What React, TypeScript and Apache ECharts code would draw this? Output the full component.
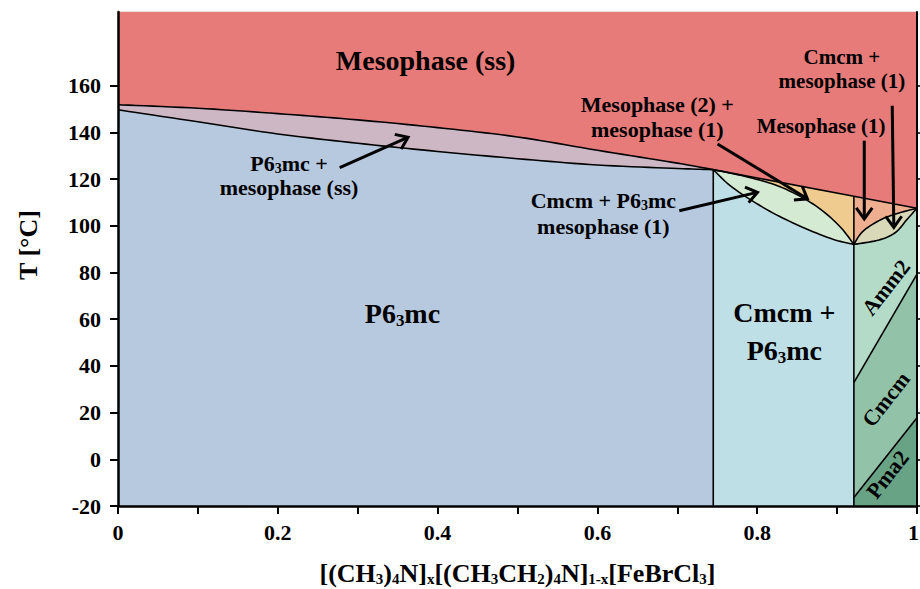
import React, { useEffect, useRef } from "react";
import * as echarts from "echarts";

const FONT = "'Liberation Serif', 'Times New Roman', Times, serif";

// ---- axes ----
const xTickValues = [0, 0.1, 0.2, 0.3, 0.4, 0.5, 0.6, 0.7, 0.8, 0.9, 1];
const xLabelValues = [0, 0.2, 0.4, 0.6, 0.8, 1];
const yTickValues = [-20, 0, 20, 40, 60, 80, 100, 120, 140, 160];
const X_MIN = 0;
const X_MAX = 1;
const Y_MIN = -20;
const Y_MAX = 191.5;

// ---- phase boundaries (x, T in °C) ----
const ssBoundaryLeft = [
  [0, 151.8], [0.1, 150.3], [0.2, 148], [0.3, 145.3], [0.4, 142],
  [0.5, 138], [0.6, 132.3], [0.7, 126.8], [0.745, 124],
];
const p63mcBoundary = [
  [0, 149.6], [0.1, 144.5], [0.2, 139.3], [0.3, 135.3], [0.4, 131.8],
  [0.5, 128.7], [0.6, 126], [0.7, 124.5], [0.745, 124],
];
const ssBoundaryRight = [[0.745, 124], [0.921, 112.6], [1, 107.5]];
const greenUpper = [[0.745, 124], [0.79, 120.7], [0.832, 116.2], [0.873, 108.6], [0.9025, 100], [0.921, 92]];
const greenLower = [[0.745, 124], [0.769, 116.4], [0.811, 107.1], [0.8525, 100], [0.894, 94.3], [0.921, 92]];
const rightUpper = [[0.921, 92], [0.932, 97.5], [0.9525, 102.2], [0.973, 105], [1, 107.5]];
const rightLower = [[0.921, 92], [0.9525, 93.9], [0.973, 97.1], [0.988, 102.9], [1, 107.5]];
const amm2CmcmLine = [[0.921, 32.8], [1, 79.3]];
const cmcmPma2Line = [[0.921, -16.4], [1, 17.8]];
const splitA = [[0.745, -20], [0.745, 124]];
const splitB = [[0.921, -20], [0.921, 112.6]];

// ---- annotation arrows [x1, T1, x2, T2] ----
const arrows = [
  [0.2775, 124.9, 0.363, 137.9],
  [0.7025, 106.4, 0.8004, 114.3],
  [0.7504, 135, 0.8629, 111.5],
  [0.934, 136.4, 0.934, 102.9],
  [0.969, 151.4, 0.971, 99.3],
];

// ---- region labels ----
const labelTexts = [
  "{b|Mesophase (ss)}",
  "{b|P6}{s|3}{b|mc +}\n{b|mesophase (ss)}",
  "{b|P6}{s|3}{b|mc}",
  "{b|Cmcm +}\n{b|P6}{s|3}{b|mc}",
  "{b|Cmcm + P6}{s|3}{b|mc}\n{b|mesophase (1)}",
  "{b|Mesophase (2) +}\n{b|mesophase (1)}",
  "{b|Mesophase (1)}",
  "{b|Cmcm +}\n{b|mesophase (1)}",
  "{b|Amm2}",
  "{b|Cmcm}",
  "{b|Pma2}",
];
const labelAnchors = [
  [0.385, 170.7], [0.214, 121.4], [0.356, 62.3], [0.834, 54.6], [0.6075, 105.1],
  [0.675, 146.7], [0.88, 142.9], [0.906, 167], [0.961, 73.6], [0.961, 25.7], [0.963, -6.5],
];
const labelSizes = [28, 22, 28, 28, 22, 22, 21, 21, 22, 22, 22];
const labelLineHeights = [32, 24, 32, 38, 26, 25, 24, 24, 24, 24, 24];
const labelRotations = [0, 0, 0, 0, 0, 0, 0, 0, 52, 52, 52];

type Piece = { pts: number[][]; smooth: boolean };
const C = (pts: number[][]): Piece => ({ pts, smooth: true });
const L = (pts: number[][]): Piece => ({ pts, smooth: false });
const rev = (a: number[][]) => a.slice().reverse();

const regions: { color: string; pieces: Piece[] }[] = [
  { color: "#E77B79", pieces: [C(ssBoundaryLeft), L(ssBoundaryRight), L([[X_MAX, Y_MAX], [X_MIN, Y_MAX]])] },
  { color: "#CDB7C4", pieces: [C(ssBoundaryLeft), C(rev(p63mcBoundary))] },
  { color: "#B7C9DF", pieces: [C(p63mcBoundary), L([[0.745, Y_MIN], [X_MIN, Y_MIN]])] },
  { color: "#BEDFE5", pieces: [C(greenLower), L([[0.921, Y_MIN], [0.745, Y_MIN]])] },
  { color: "#D4EAD3", pieces: [C(greenUpper), C(rev(greenLower))] },
  { color: "#EFCB8F", pieces: [L([[0.745, 124], [0.921, 112.6], [0.921, 92]]), C(rev(greenUpper))] },
  { color: "#EEAE90", pieces: [L([[0.921, 112.6], [1, 107.5]]), C(rev(rightUpper))] },
  { color: "#D9D9B9", pieces: [C(rightUpper), C(rev(rightLower))] },
  { color: "#B3DBC8", pieces: [C(rightLower), L(rev(amm2CmcmLine))] },
  { color: "#92C3A9", pieces: [L(amm2CmcmLine), L(rev(cmcmPma2Line))] },
  { color: "#68A385", pieces: [L(cmcmPma2Line), L([[1, Y_MIN], [0.921, Y_MIN]])] },
];

const boundaries: Piece[] = [
  C(ssBoundaryLeft), L(ssBoundaryRight), C(p63mcBoundary), L(splitA), L(splitB),
  C(greenUpper), C(greenLower), C(rightUpper), C(rightLower), L(amm2CmcmLine), L(cmcmPma2Line),
];

function catmull(p: number[][], steps = 10): number[][] {
  if (p.length < 3) return p;
  const out: number[][] = [p[0]];
  for (let i = 0; i < p.length - 1; i++) {
    const p0 = p[i - 1] || p[i];
    const p1 = p[i];
    const p2 = p[i + 1];
    const p3 = p[i + 2] || p[i + 1];
    for (let s = 1; s <= steps; s++) {
      const t = s / steps, t2 = t * t, t3 = t2 * t;
      const f = (a: number, b: number, c: number, d: number) =>
        0.5 * (2 * b + (-a + c) * t + (2 * a - 5 * b + 4 * c - d) * t2 + (-a + 3 * b - 3 * c + d) * t3);
      out.push([f(p0[0], p1[0], p2[0], p3[0]), f(p0[1], p1[1], p2[1], p3[1])]);
    }
  }
  return out;
}

function piecePx(piece: Piece, api: any): number[][] {
  const px = piece.pts.map((q) => api.coord(q));
  return piece.smooth ? catmull(px) : px;
}

const richTokens = (size: number, lh: number) => ({
  b: { fontSize: size, fontWeight: "bold", fontFamily: FONT, fill: "#000", color: "#000", lineHeight: lh },
  s: {
    fontSize: Math.round(size * 0.62),
    fontWeight: "bold",
    fontFamily: FONT,
    fill: "#000",
    color: "#000",
    lineHeight: Math.round(size * 0.62),
    padding: [Math.round(size * 0.45), 0, 0, 0],
  },
});

const xName =
  "{m|[(CH}{s|3}{m|)}{s|4}{m|N]}{s|x}{m|[(CH}{s|3}{m|CH}{s|2}{m|)}{s|4}{m|N]}{s|1-x}{m|[FeBrCl}{s|3}{m|]}";

export default function App() {
  const ref = useRef<HTMLDivElement>(null);
  useEffect(() => {
    if (!ref.current) return;
    const chart = echarts.init(ref.current, undefined, { renderer: "svg" });
    const tickLabelStyle = { fontSize: 22, fontWeight: "bold", fontFamily: FONT, color: "#000" };
    const option: any = {
      animation: false,
      backgroundColor: "#fff",
      grid: { left: 118, right: 3, top: 12, bottom: 83, containLabel: false, outerBoundsMode: "none" },
      xAxis: {
        type: "value",
        min: X_MIN,
        max: X_MAX,
        interval: 0.1,
        z: 10,
        axisLine: { show: true, onZero: false, lineStyle: { color: "#000", width: 2.5 } },
        axisTick: { show: true, length: 8, lineStyle: { color: "#000", width: 2 }, customValues: xTickValues },
        axisLabel: {
          ...tickLabelStyle,
          margin: 15,
          customValues: xLabelValues,
          formatter: (v: number) => (v === 1 ? "{r|1}" : String(v)),
          rich: { r: { ...tickLabelStyle, padding: [0, 7, 0, 0] } },
        },
        splitLine: { show: false },
        name: xName,
        nameLocation: "middle",
        nameGap: 52,
        nameTextStyle: {
          rich: {
            m: { fontSize: 26, fontWeight: "bold", fontFamily: FONT, color: "#000", lineHeight: 30 },
            s: { fontSize: 15, fontWeight: "bold", fontFamily: FONT, color: "#000", lineHeight: 15, padding: [12, 0, 0, 0] },
          },
        },
      },
      yAxis: [
        {
          type: "value",
          min: Y_MIN,
          max: Y_MAX,
          interval: 20,
          position: "left",
          z: 10,
          axisLine: { show: true, onZero: false, lineStyle: { color: "#000", width: 2.5 } },
          axisTick: { show: true, length: 8, lineStyle: { color: "#000", width: 2 }, customValues: yTickValues },
          axisLabel: { ...tickLabelStyle, margin: 17, customValues: yTickValues },
          splitLine: { show: false },
        },
        {
          type: "value",
          min: Y_MIN,
          max: Y_MAX,
          interval: 20,
          position: "right",
          z: 10,
          axisLine: { show: true, onZero: false, lineStyle: { color: "#000", width: 2 } },
          axisTick: { show: true, length: 5, lineStyle: { color: "#000", width: 1.5 }, customValues: yTickValues },
          axisLabel: { show: false },
          splitLine: { show: false },
        },
      ],
      graphic: [
        {
          type: "text",
          x: 28,
          y: 245,
          rotation: Math.PI / 2,
          style: {
            text: "T [°C]",
            fontSize: 26,
            fontWeight: "bold",
            fontFamily: FONT,
            fill: "#000",
            align: "center",
            verticalAlign: "middle",
          },
        },
      ],
      series: [
        {
          type: "custom",
          coordinateSystem: "cartesian2d",
          silent: true,
          z: 1,
          data: [[0.5, 50]],
          renderItem: (_p: any, api: any) => ({
            type: "group",
            children: regions.map((r) => {
              const pts: number[][] = [];
              r.pieces.forEach((pc) => pts.push(...piecePx(pc, api)));
              return { type: "polygon", shape: { points: pts }, style: { fill: r.color, stroke: r.color, lineWidth: 0.5 } };
            }),
          }),
        },
        {
          type: "custom",
          coordinateSystem: "cartesian2d",
          silent: true,
          z: 2,
          data: [[0.5, 50]],
          renderItem: (_p: any, api: any) => ({
            type: "group",
            children: boundaries.map((b) => ({
              type: "polyline",
              shape: { points: piecePx(b, api) },
              style: { stroke: "#000", lineWidth: 1.6, fill: "none" },
            })),
          }),
        },
        {
          type: "custom",
          coordinateSystem: "cartesian2d",
          silent: true,
          z: 3,
          data: [[0.5, 50]],
          renderItem: (_p: any, api: any) => ({
            type: "group",
            children: arrows.flatMap((a) => {
              const p1 = api.coord([a[0], a[1]]);
              const p2 = api.coord([a[2], a[3]]);
              const dx = p2[0] - p1[0], dy = p2[1] - p1[1];
              const len = Math.hypot(dx, dy);
              const ux = dx / len, uy = dy / len;
              const nx = -uy, ny = ux;
              const back = [p2[0] - ux * 11, p2[1] - uy * 11];
              return [
                { type: "line", shape: { x1: p1[0], y1: p1[1], x2: p2[0] - ux * 1.5, y2: p2[1] - uy * 1.5 }, style: { stroke: "#000", lineWidth: 3 } },
                {
                  type: "polyline",
                  shape: { points: [[back[0] + nx * 8, back[1] + ny * 8], p2, [back[0] - nx * 8, back[1] - ny * 8]] },
                  style: { stroke: "#000", lineWidth: 3, fill: "none", lineJoin: "miter" },
                },
              ];
            }),
          }),
        },
        {
          type: "custom",
          coordinateSystem: "cartesian2d",
          silent: true,
          z: 4,
          data: [[0.5, 50]],
          renderItem: (_p: any, api: any) => ({
            type: "group",
            children: labelTexts.map((t, i) => {
              const p = api.coord(labelAnchors[i]);
              return {
                type: "text",
                x: p[0],
                y: p[1],
                rotation: (labelRotations[i] * Math.PI) / 180,
                style: {
                  text: t,
                  fill: "#000",
                  fontSize: labelSizes[i],
                  fontWeight: "bold",
                  fontFamily: FONT,
                  align: "center",
                  verticalAlign: "middle",
                  rich: richTokens(labelSizes[i], labelLineHeights[i]),
                },
              };
            }),
          }),
        },
      ],
    };
    chart.setOption(option);
    return () => chart.dispose();
  }, []);
  return <div ref={ref} style={{ position: "fixed", left: 0, top: 0, width: 920, height: 589 }} />;
}
